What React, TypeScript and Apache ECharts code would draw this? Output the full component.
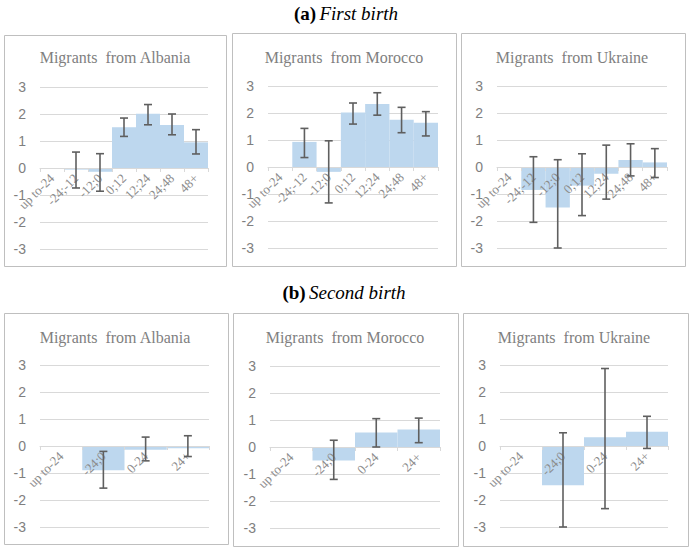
import React, { useEffect, useRef } from "react";
import * as echarts from "echarts";

const firstCats = ["up to-24", "-24;-12", "-12;0", "0;12", "12;24", "24;48", "48+"];
const secondCats = ["up to-24", "-24;0", "0-24", "24+"];

const albania1 = [0, -0.06, -0.14, 1.51, 2.01, 1.59, 0.95];
const albania1Hi = [null, 0.59, 0.53, 1.85, 2.35, 2.0, 1.42];
const albania1Lo = [null, -0.74, -0.86, 1.17, 1.6, 1.23, 0.52];

const morocco1 = [0, 0.93, -0.18, 2.02, 2.33, 1.75, 1.64];
const morocco1Hi = [null, 1.43, 0.97, 2.37, 2.75, 2.21, 2.05];
const morocco1Lo = [null, 0.35, -1.33, 1.59, 1.92, 1.27, 1.15];

const ukraine1 = [0, -0.85, -1.5, -0.69, -0.25, 0.26, 0.17];
const ukraine1Hi = [null, 0.38, 0.27, 0.49, 0.81, 0.86, 0.68];
const ukraine1Lo = [null, -2.05, -3.0, -1.8, -1.19, -0.33, -0.39];

const albania2 = [0, -0.9, -0.14, -0.08];
const albania2Hi = [null, -0.2, 0.33, 0.38];
const albania2Lo = [null, -1.56, -0.55, -0.39];

const morocco2 = [0, -0.5, 0.54, 0.65];
const morocco2Hi = [null, 0.25, 1.05, 1.07];
const morocco2Lo = [null, -1.2, 0.0, 0.16];

const ukraine2 = [0, -1.45, 0.32, 0.53];
const ukraine2Hi = [null, 0.49, 2.87, 1.1];
const ukraine2Lo = [null, -3.0, -2.32, -0.09];

const panelTitles = ["Migrants  from Albania", "Migrants  from Morocco", "Migrants  from Ukraine"];
const yMin = -3;
const yMax = 3;

export default function App() {
  const ref = useRef<HTMLDivElement>(null);
  useEffect(() => {
    if (!ref.current) return;
    const chart = echarts.init(ref.current, null, { renderer: "svg" });

    const panels = [
      { cats: firstCats, v: albania1, hi: albania1Hi, lo: albania1Lo, grid: { left: 40, top: 87, width: 168, height: 162 }, box: [4, 35, 222, 231], title: [115, 57] },
      { cats: firstCats, v: morocco1, hi: morocco1Hi, lo: morocco1Lo, grid: { left: 268, top: 86, width: 170, height: 162 }, box: [232, 33, 224, 233], title: [344, 57] },
      { cats: firstCats, v: ukraine1, hi: ukraine1Hi, lo: ukraine1Lo, grid: { left: 497, top: 86, width: 170, height: 162 }, box: [461, 33, 224, 233], title: [572, 57] },
      { cats: secondCats, v: albania2, hi: albania2Hi, lo: albania2Lo, grid: { left: 40, top: 365, width: 169, height: 162 }, box: [4, 313, 224, 231], title: [115, 337] },
      { cats: secondCats, v: morocco2, hi: morocco2Hi, lo: morocco2Lo, grid: { left: 270, top: 366, width: 170, height: 162 }, box: [233, 313, 225, 233], title: [345, 337] },
      { cats: secondCats, v: ukraine2, hi: ukraine2Hi, lo: ukraine2Lo, grid: { left: 500, top: 365, width: 168, height: 162 }, box: [463, 313, 225, 233], title: [574, 337] },
    ];

    const grids: any[] = [];
    const xAxes: any[] = [];
    const yAxes: any[] = [];
    const series: any[] = [];
    const graphics: any[] = [];

    panels.forEach((p, i) => {
      grids.push({ ...p.grid, containLabel: false });
      // place the category axis on the zero line of the value axis
      const zeroOffset = -p.grid.height * (0 - yMin) / (yMax - yMin);
      xAxes.push({
        type: "category",
        gridIndex: i,
        position: "bottom",
        offset: zeroOffset,
        z: 3,
        data: p.cats,
        axisLine: { show: true, onZero: false, lineStyle: { color: "#d9d9d9", width: 1 } },
        axisTick: { show: true, length: 4, lineStyle: { color: "#d9d9d9" } },
        axisLabel: {
          rotate: 45,
          interval: 0,
          margin: 8,
          fontFamily: "Liberation Serif",
          fontSize: 13,
          color: "#8c8c8c",
        },
        splitLine: { show: false },
      });
      yAxes.push({
        type: "value",
        gridIndex: i,
        min: yMin,
        max: yMax,
        interval: 1,
        axisLine: { show: false },
        axisTick: { show: false },
        axisLabel: { margin: 14, fontFamily: "Liberation Sans", fontSize: 14, color: "#7f7f7f" },
        splitLine: { show: true, lineStyle: { color: "#d9d9d9", width: 1 } },
      });
      series.push({
        type: "bar",
        xAxisIndex: i,
        yAxisIndex: i,
        data: p.v,
        barCategoryGap: "0%",
        itemStyle: { color: "#bdd7ee" },
        silent: true,
        z: 2,
      });
      const errData = p.cats
        .map((_, k) => (p.hi[k] == null ? null : [k, p.lo[k], p.hi[k]]))
        .filter((d) => d != null);
      series.push({
        type: "custom",
        xAxisIndex: i,
        yAxisIndex: i,
        data: errData,
        silent: true,
        z: 5,
        renderItem: (params: any, api: any) => {
          const x = api.value(0);
          const top = api.coord([x, api.value(2)]);
          const bot = api.coord([x, api.value(1)]);
          const cap = 4;
          const st = { stroke: "#5f5f5f", lineWidth: 1.6 };
          return {
            type: "group",
            children: [
              { type: "line", shape: { x1: top[0], y1: top[1], x2: bot[0], y2: bot[1] }, style: st },
              { type: "line", shape: { x1: top[0] - cap, y1: top[1], x2: top[0] + cap, y2: top[1] }, style: st },
              { type: "line", shape: { x1: bot[0] - cap, y1: bot[1], x2: bot[0] + cap, y2: bot[1] }, style: st },
            ],
          };
        },
        encode: { x: 0, y: [1, 2] },
      });
      graphics.push({
        type: "rect",
        shape: { x: p.box[0] + 0.5, y: p.box[1] + 0.5, width: p.box[2], height: p.box[3] },
        style: { fill: "none", stroke: "#bfbfbf", lineWidth: 1 },
        z: 0,
      });
      graphics.push({
        type: "text",
        x: p.title[0],
        y: p.title[1],
        style: {
          text: panelTitles[i % 3],
          fontFamily: "Liberation Serif",
          fontSize: 16,
          fill: "#808080",
          align: "center",
          verticalAlign: "middle",
        },
      });
    });

    const headerRich = {
      b: { fontFamily: "Liberation Serif", fontSize: 19, fontWeight: "bold", fill: "#000" },
      i: { fontFamily: "Liberation Serif", fontSize: 19, fontStyle: "italic", fill: "#000" },
    };
    graphics.push({
      type: "text",
      x: 346,
      y: 13,
      style: { text: "{b|(a)} {i|First birth}", align: "center", verticalAlign: "middle", rich: headerRich },
    });
    graphics.push({
      type: "text",
      x: 344,
      y: 292,
      style: { text: "{b|(b)} {i|Second birth}", align: "center", verticalAlign: "middle", rich: headerRich },
    });

    chart.setOption({
      animation: false,
      backgroundColor: "#ffffff",
      grid: grids,
      xAxis: xAxes,
      yAxis: yAxes,
      series,
      graphic: graphics,
    });
    return () => chart.dispose();
  }, []);

  return (
    <div
      ref={ref}
      style={{ position: "fixed", left: 0, top: 0, width: 691, height: 550 }}
    />
  );
}
